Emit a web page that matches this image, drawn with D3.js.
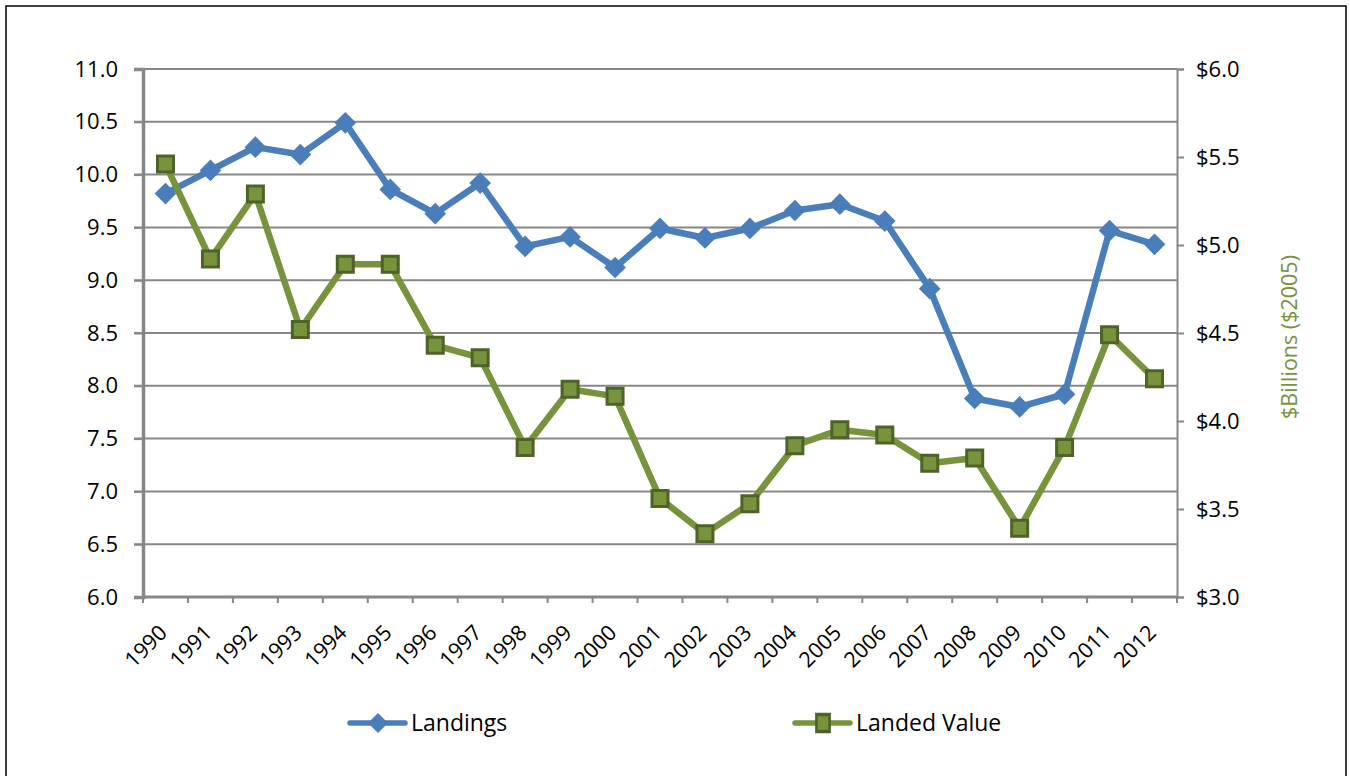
<!DOCTYPE html>
<html>
<head>
<meta charset="utf-8">
<script src="https://cdn.jsdelivr.net/npm/d3@7"></script>
<style>
  body { margin: 0; background: #fff; }
  text { font-family: "Open Sans", "Noto Sans", sans-serif; fill: #000; }
</style>
</head>
<body>
<div id="chart-area"></div>
<script>
/* Data */
const years = ['1990', '1991', '1992', '1993', '1994', '1995', '1996', '1997', '1998', '1999', '2000',
  '2001', '2002', '2003', '2004', '2005', '2006', '2007', '2008', '2009', '2010', '2011', '2012']
const landings = [9.82, 10.04, 10.26, 10.19, 10.49, 9.86, 9.63, 9.92, 9.32, 9.41, 9.12,
  9.49, 9.40, 9.49, 9.66, 9.72, 9.56, 8.92, 7.88, 7.80, 7.92, 9.47, 9.34]
const landedValue = [5.46, 4.92, 5.29, 4.52, 4.89, 4.89, 4.43, 4.36, 3.85, 4.18, 4.14,
  3.56, 3.36, 3.53, 3.86, 3.95, 3.92, 3.76, 3.79, 3.39, 3.85, 4.49, 4.24]
const leftTicks = [6.0, 6.5, 7.0, 7.5, 8.0, 8.5, 9.0, 9.5, 10.0, 10.5, 11.0]
const rightTicks = [3.0, 3.5, 4.0, 4.5, 5.0, 5.5, 6.0]
const rightTitle = '$Billions ($2005)'
const seriesNames = ['Landings', 'Landed Value']

const BLUE = '#4a7ebb'
const GREEN = '#77933c'
const GREEN_DARK = '#4f6228'
const GRAY = '#878787'

/* Canvas */
const CANVAS_WIDTH = 1350
const CANVAS_HEIGHT = 776
const margin = { top: 69, right: 173, left: 143, bottom: 179 }
const width = CANVAS_WIDTH - margin.left - margin.right
const height = CANVAS_HEIGHT - margin.top - margin.bottom

const $canvas = d3.select('#chart-area')
  .append('svg')
  .attr('width', CANVAS_WIDTH)
  .attr('height', CANVAS_HEIGHT)

// outer frame
$canvas.append('rect')
  .attr('x', 6).attr('y', 6)
  .attr('width', 1340).attr('height', 780)
  .attr('fill', 'none')
  .attr('stroke', '#000')
  .attr('stroke-width', 1.5)

const $group = $canvas.append('g')
  .attr('transform', `translate(${margin.left}, ${margin.top})`)

/* Scales */
const scaleX = d3.scaleBand().domain(years).range([0, width])
const scaleY = d3.scaleLinear().domain([6, 11]).range([height, 0])
const scaleY2 = d3.scaleLinear().domain([3, 6]).range([height, 0])
const cx = d => scaleX(d) + scaleX.bandwidth() / 2

/* Gridlines */
$group.append('g')
  .selectAll('line')
  .data(leftTicks.slice(1))
  .join('line')
  .attr('x1', -9).attr('x2', width)
  .attr('y1', d => scaleY(d)).attr('y2', d => scaleY(d))
  .attr('stroke', GRAY)
  .attr('stroke-width', 2)

/* Axes */
const yAxisCall = d3.axisLeft(scaleY).tickValues(leftTicks).tickFormat(d3.format('.1f')).tickSize(9).tickPadding(16)
const $yAxis = $group.append('g').call(yAxisCall)
$yAxis.select('.domain').attr('stroke', GRAY).attr('stroke-width', 3.5)
$yAxis.selectAll('.tick line').attr('stroke', GRAY).attr('stroke-width', 2)
$yAxis.selectAll('text').attr('font-size', 22).attr('font-family', '"Open Sans", sans-serif')

const y2AxisCall = d3.axisRight(scaleY2).tickValues(rightTicks).tickFormat(d => '$' + d3.format('.1f')(d)).tickSize(7).tickPadding(12)
const $y2Axis = $group.append('g').attr('transform', `translate(${width}, 0)`).call(y2AxisCall)
$y2Axis.select('.domain').attr('stroke', GRAY).attr('stroke-width', 2)
$y2Axis.selectAll('.tick line').attr('stroke', GRAY).attr('stroke-width', 2)
$y2Axis.selectAll('text').attr('font-size', 22).attr('font-family', '"Open Sans", sans-serif')

// x axis: ticks on band edges
const $xAxis = $group.append('g').attr('transform', `translate(0, ${height})`)
$xAxis.append('line')
  .attr('x1', 0).attr('x2', width)
  .attr('stroke', GRAY).attr('stroke-width', 3)
$xAxis.selectAll('.edge')
  .data(years.concat(['end']))
  .join('line')
  .attr('class', 'edge')
  .attr('x1', (d, i) => i * scaleX.step()).attr('x2', (d, i) => i * scaleX.step())
  .attr('y1', 0).attr('y2', 6)
  .attr('stroke', GRAY).attr('stroke-width', 2)
$xAxis.selectAll('text')
  .data(years)
  .join('text')
  .attr('transform', d => `translate(${cx(d) + 3}, 37) rotate(-45)`)
  .attr('text-anchor', 'end')
  .attr('font-size', 21.5)
  .text(d => d)

// right axis title
$canvas.append('text')
  .attr('transform', `translate(1297, ${margin.top + height / 2 + 4}) rotate(-90)`)
  .attr('text-anchor', 'middle')
  .attr('font-size', 21.5)
  .style('fill', GREEN)
  .text(rightTitle)

/* Lines */
const lineLeft = d3.line().x((d, i) => cx(years[i])).y(d => scaleY(d))
const lineRight = d3.line().x((d, i) => cx(years[i])).y(d => scaleY2(d))

$group.append('path')
  .attr('d', lineLeft(landings))
  .attr('fill', 'none')
  .attr('stroke', BLUE)
  .attr('stroke-width', 6.5)
  .attr('stroke-linejoin', 'round')

$group.selectAll('.diamond')
  .data(landings)
  .join('path')
  .attr('class', 'diamond')
  .attr('d', d3.symbol(d3.symbolSquare, 235))
  .attr('transform', (d, i) => `translate(${cx(years[i])}, ${scaleY(d)}) rotate(45)`)
  .attr('fill', BLUE)

$group.append('path')
  .attr('d', lineRight(landedValue))
  .attr('fill', 'none')
  .attr('stroke', GREEN)
  .attr('stroke-width', 6.5)
  .attr('stroke-linejoin', 'round')

$group.selectAll('.square')
  .data(landedValue)
  .join('path')
  .attr('class', 'square')
  .attr('d', d3.symbol(d3.symbolSquare, 256))
  .attr('transform', (d, i) => `translate(${cx(years[i])}, ${scaleY2(d)})`)
  .attr('fill', GREEN)
  .attr('stroke', GREEN_DARK)
  .attr('stroke-width', 3)

/* Legend */
const legendY = 723
const $legend = $canvas.append('g')
const legendItems = [
  { name: seriesNames[0], x: 350, color: BLUE },
  { name: seriesNames[1], x: 795, color: GREEN }
]
legendItems.forEach((item, i) => {
  $legend.append('line')
    .attr('x1', item.x).attr('x2', item.x + 55)
    .attr('y1', legendY).attr('y2', legendY)
    .attr('stroke', item.color)
    .attr('stroke-width', 5.5)
    .attr('stroke-linecap', 'round')
  const $mark = $legend.append('path')
    .attr('fill', item.color)
  if (i === 0) {
    $mark.attr('d', d3.symbol(d3.symbolSquare, 200))
      .attr('transform', `translate(${item.x + 28}, ${legendY}) rotate(45)`)
  } else {
    $mark.attr('d', d3.symbol(d3.symbolSquare, 240))
      .attr('transform', `translate(${item.x + 28}, ${legendY}) scale(0.85, 1.1)`)
      .attr('stroke', GREEN_DARK)
      .attr('stroke-width', 3)
  }
  $legend.append('text')
    .attr('x', item.x + 61)
    .attr('y', legendY + 8)
    .attr('font-size', 23)
    .text(item.name)
})
</script>
</body>
</html>
